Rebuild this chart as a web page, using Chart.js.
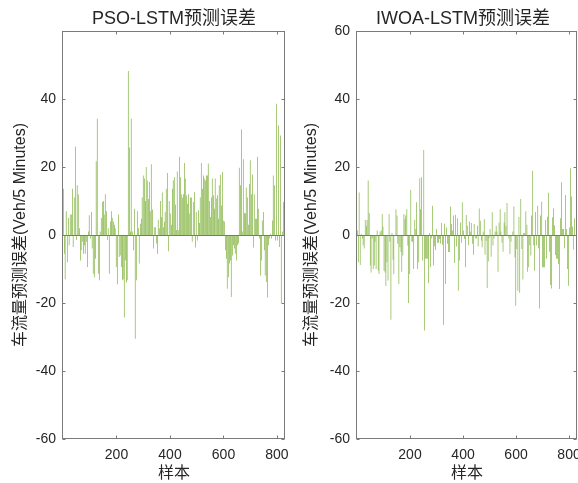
<!DOCTYPE html>
<html>
<head>
<meta charset="utf-8">
<script src="https://cdn.jsdelivr.net/npm/chart.js@4.4.1/dist/chart.umd.min.js"></script>
<style>
  body { margin: 0; background: #fff; }
  .panel { position: absolute; top: 0; }
</style>
</head>
<body>
<div class="panel" style="left:0px"><canvas id="psoChart" width="290" height="483"></canvas></div>
<div class="panel" style="left:290px"><canvas id="iwoaChart" width="288" height="483"></canvas></div>
<script>
// prediction error per plotted bar (one bar ~ 3.74 samples)
const psoErr = [
  13.6, -5.5, -13, 7, -8, 5, -3, 6, 6, 13.6, -3.5, 11, 26, -1.5, 14.6, 12, 2, -7.5, -4.5, -2,
  -5.5, -3, -5.5, -2, -9.4, 1, 5.8, -1, 6.8, -4, -11.4, -12.4, -7, 21.7, 34.2, -11.4, -13.3, 1, 5, 9.7,
  10, 6, 12, 7, -1.5, 2, -11.4, 4, 7, 5, 4, 3, 2, -9.4, -14.5, 6, -6.5,
  -6, -9.4, -13.3, -13, -24.3, -7.5, -14, -13.3, 48.2, 25.7, 1, 34.2, 1, -4.5, 7.7, -30.5, -13.3, 7, 2, -8.4,
  3.3, 4.8, 11, 17.5, 16.6, 10, 20, 16, 10.6, 15.6, 7, 20.8, 7.5, -4, 2.3, 2.3, -2.5, -5.5, 4.5, 2,
  10, 5.3, 12.5, 2.3, 4, 6.8, 13.6, 18.2, -4.8, 10, 6.3, 3, 13.6, 16, 17, 9, 1.5, 18.7,
  1.4, 23, 17, 12, 11, 12, 21.2, 16.6, 11.7, 9.2, 12, 6.3, 11, 11, -2, 9.7, 12.6, -3.7, 6.8, -1.6,
  7.3, 3.5, 11, 21.2, 13.6, 17.5, 16.6, 16, 17.5, 17.5, 21, 10, 5.3, 11, 16.6, 11.7, 7.7, 16.6, 10.7, 11.7,
  4.8, 14.6, 17.7, 8.7, 18.5, 4.3, 4, -4.5, -7, -15.8, -12.4, -8.4, -7.5, -18.2, -6, -3,
  -4, -5.5, -7.5, -3, -2.5, 19.8, 14.6, 31, 1, 22.3, 6.5, 6.3, 14, 11, 3, 15, 22, 12, 17.8, -3.7,
  12, 4.8, 4.8, 23, 7.7, -1, -11.9, -7.5, 4.3, 6.8, -4.5, -11.9, -13.8, -18.4, -3, -1, 0.4, -1, 4.3, 17.5,
  14.6, -1.6, 38.6, -1.6, 32.3, -3.5, 29.3, -20, 1, 9.7, -2.5
];
const iwoaErr = [
  1.3, -8, 12.5, -8.8, 0.3, -1, -3, -4, 4.4, 2.7, 4.4, 16, 6.5, -9, -11, -1, -10, -9, -2, -10,
  1.3, -10.5, -11.5, 1, 1.3, 6.2, 2.5, -10.5, -11, -15, -8, -13.4, 6.2, -2, -24.9, 0.6, -7.3, -11.5, 0, 7.6,
  5.7, -2.6, -14.4, -3.6, -5, -10.8, -6, 6.2, 4.7, 5.7, 7.6, -3.1, -20, -11.5, 13.3, -1.9, -2,
  -10, 4.5, 1.8, 9.6, -10, -8, 16.7, 7.6, 17, -7.5, 25, -28.1, -7, -7, -7, -14.2, 0.6, -9.5, -1, 8.6,
  -9, -3.3, -4.4, 1.8, -2.3, -2.3, -1.2, -2.5, 3.5, -2.9, -26.4, 3.3, -14.4, 2.2, -2.6, -5, -5, 8.4, 3.2, 1.3,
  5.7, -8.2, 5.9, -3.4, 4.9, -16.4, -7.5, 3.7, -2.3, 9.6, 1.3, -1.2, -9.5, 5.9, 2.7, -3, 4, 1,
  3.5, -2.6, -5.8, 3.2, -1, -1, 2.7, -3.4, 7.8, 4.2, -1.7, -3.6, 1, 4.7, -5.8, -1.7, -15.6, -7.8, -1, 1.8,
  -6.4, 6.7, -3.1, -1, 1, 2.7, 1, -10.8, 3.7, 7.6, 1, -2.2, -4.9, 3.7, 6.7, 2.7, 9.4, -0.2, -1, -5.6,
  -2, -0.2, 1, 8.4, -6.6, -20.8, -4.1, -16.4, 5.3, -17, 10.6, -4.1, -13.1, 0.6, 0.6, 7,
  3, -10.8, -9.5, -3, -6, 5.7, 18.9, -3, -10.5, 6.8, -3.1, 8.6, -3.9, -21.6, 5.7, 9.8, -9.5, -9.5, -9.5, 4.4,
  -7, 5.4, 12.4, -4.9, -14.7, -15.7, 5.2, 7.8, 2.9, -5.9, -7, -7, -8.5, -15.9, 4.9, 15.5, 1.8, 1.8, -3.9, 11.8,
  1.8, -10, -14.9, 2.2, 19.6, 11.3, 2.5, -4.3, 4.9
];
const xTicks = [200, 400, 600, 800];
const yTicks = [-60, -40, -20, 0, 20, 40, 60];
const samplesPerBar = 3.74;
const sampleMax = 830;

const barColor = '#77AC30';
const axisColor = '#7a7a7a';
const textColor = '#262626';
const fontFam = "'Liberation Sans', Arial, 'Noto Sans CJK SC', sans-serif";

// box, inward ticks, zero baseline and a title centred on the axes
const boxPlugin = {
  id: 'box',
  afterDatasetsDraw(chart, args, opts) {
    const ctx = chart.ctx;
    const a = chart.chartArea;
    const x = chart.scales.x, y = chart.scales.y;
    ctx.save();
    ctx.strokeStyle = axisColor;
    ctx.lineWidth = 1;
    const y0 = Math.round(y.getPixelForValue(0)) + 0.5;
    ctx.beginPath();
    ctx.moveTo(a.left, y0);
    ctx.lineTo(a.right, y0);
    ctx.stroke();
    const l = Math.round(a.left) - 0.5, r = Math.round(a.right) - 0.5;
    const t = Math.round(a.top) + 0.5, b = Math.round(a.bottom) - 0.5;
    ctx.strokeRect(l, t, r - l, b - t);
    ctx.beginPath();
    xTicks.forEach(v => {
      const px = Math.round(x.getPixelForValue(v)) + 0.5;
      ctx.moveTo(px, b); ctx.lineTo(px, b - 3);
      ctx.moveTo(px, t); ctx.lineTo(px, t + 3);
    });
    yTicks.forEach(v => {
      const py = Math.round(y.getPixelForValue(v)) + 0.5;
      ctx.moveTo(l, py); ctx.lineTo(l + 3, py);
      ctx.moveTo(r, py); ctx.lineTo(r - 3, py);
    });
    ctx.stroke();
    ctx.fillStyle = textColor;
    ctx.font = '18px ' + fontFam;
    ctx.textAlign = 'center';
    ctx.textBaseline = 'middle';
    ctx.fillText(opts.text, (a.left + a.right) / 2 + (opts.shift || 0), 19);
    ctx.restore();
  }
};

function makeChart(id, title, values, yWidth, padRight, labelPad, hideTop, shift) {
  const points = values.map((v, i) => ({ x: Math.round(i * samplesPerBar) + 1, y: v }));
  return new Chart(document.getElementById(id), {
    type: 'bar',
    data: {
      datasets: [{
        data: points,
        backgroundColor: barColor,
        borderWidth: 0,
        barPercentage: 0.8,
        categoryPercentage: 1
      }]
    },
    options: {
      responsive: false,
      animation: false,
      devicePixelRatio: 1,
      layout: { padding: { left: 0, right: padRight, top: 31, bottom: 0 } },
      plugins: {
        legend: { display: false },
        tooltip: { enabled: false },
        title: { display: false },
        box: { text: title, shift: shift }
      },
      scales: {
        x: {
          type: 'linear',
          min: 0,
          max: sampleMax,
          offset: false,
          grid: { display: false, drawTicks: false },
          border: { display: false },
          afterBuildTicks: s => { s.ticks = xTicks.map(v => ({ value: v })); },
          afterFit: s => { s.height = 44; s.paddingLeft = 0; s.paddingRight = 0; },
          ticks: {
            color: textColor,
            font: { family: fontFam, size: 14 },
            padding: 8,
            maxRotation: 0
          },
          title: {
            display: true,
            text: '样本',
            color: textColor,
            font: { family: fontFam, size: 16 },
            padding: { top: 0, bottom: 0 }
          }
        },
        y: {
          min: -60,
          max: 60,
          grid: { display: false, drawTicks: false },
          border: { display: false },
          afterBuildTicks: s => { s.ticks = yTicks.map(v => ({ value: v })); },
          afterFit: s => { s.width = yWidth; s.paddingTop = 0; s.paddingBottom = 0; },
          ticks: {
            color: textColor,
            font: { family: fontFam, size: 14 },
            padding: 7,
            callback: v => (hideTop && v === 60) ? '' : v
          },
          title: {
            display: true,
            text: '车流量预测误差(Veh/5 Minutes)',
            color: textColor,
            font: { family: fontFam, size: 16 },
            padding: { top: labelPad, bottom: 0 }
          }
        }
      }
    },
    plugins: [boxPlugin]
  });
}

makeChart('psoChart', 'PSO-LSTM预测误差', psoErr, 63, 5, 11, true, 0);
makeChart('iwoaChart', 'IWOA-LSTM预测误差', iwoaErr, 67, 1, 12, false, -4);
</script>
</body>
</html>
